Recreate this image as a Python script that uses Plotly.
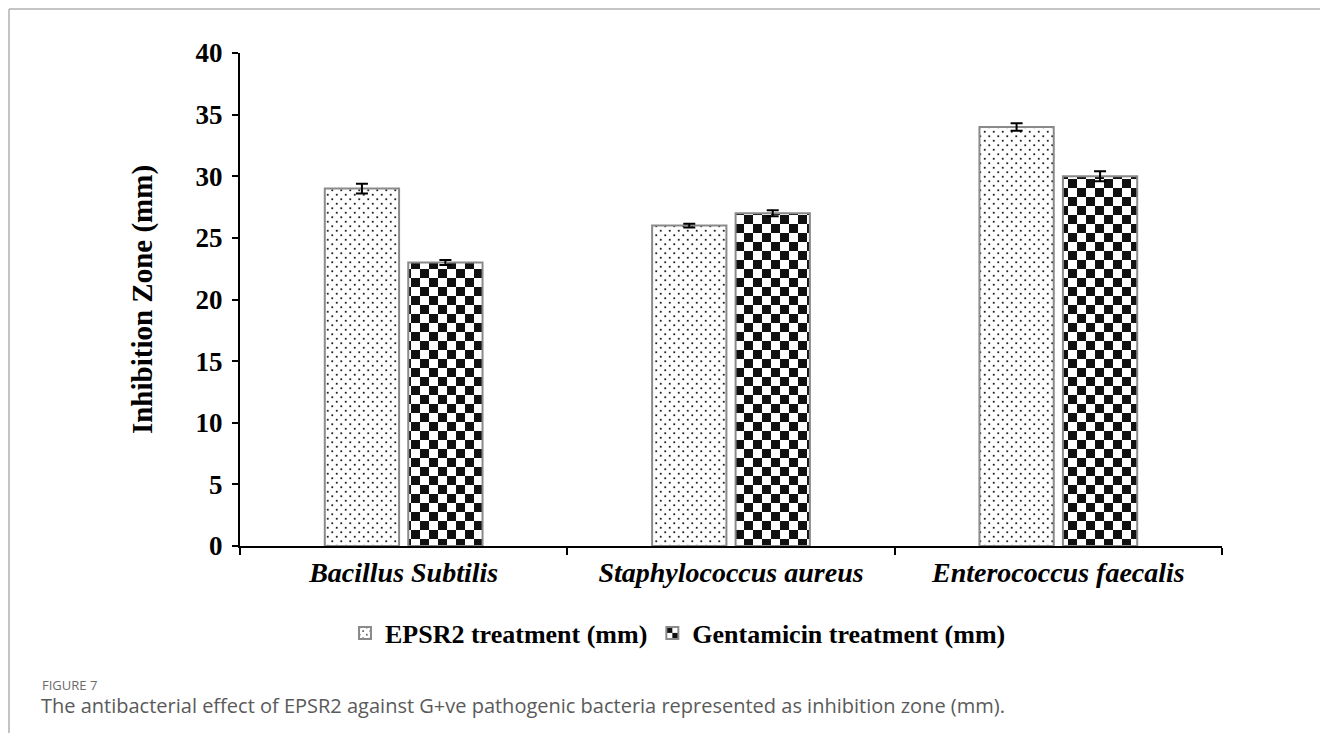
import plotly.graph_objects as go

# ---- data ----
categories = ["Bacillus Subtilis", "Staphylococcus aureus", "Enterococcus faecalis"]
epsr2 = [29, 26, 34]
epsr2_err = [0.4, 0.15, 0.3]
genta = [23, 27, 30]
genta_err = [0.2, 0.25, 0.4]
series_names = ["EPSR2 treatment (mm)", "Gentamicin treatment (mm)"]
y_ticks = [0, 5, 10, 15, 20, 25, 30, 35, 40]

W, H = 1320, 733
ML, MR, MT, MB = 240, 98, 53, 187
PW, PH = W - ML - MR, H - MT - MB

def px_x(x):
    return (x - ML) / PW

def px_y(y):
    return (H - MB - y) / PH

serif = "Liberation Serif"
outline = "#8a8a8a"

fig = go.Figure()
fig.add_trace(go.Bar(
    name=series_names[0], x=categories, y=epsr2,
    error_y=dict(type="data", array=epsr2_err, color="black", thickness=2, width=6),
    marker=dict(color="white", line=dict(color=outline, width=2),
                pattern=dict(shape=".", fgcolor="#222222", bgcolor="white", size=9, solidity=0.05)),
))
fig.add_trace(go.Bar(
    name=series_names[1], x=categories, y=genta,
    error_y=dict(type="data", array=genta_err, color="black", thickness=2, width=6),
    marker=dict(color="white", line=dict(color=outline, width=2),
                pattern=dict(shape="+", fgcolor="#111111", bgcolor="white", size=18, solidity=0.5)),
))

fig.update_layout(
    width=W, height=H,
    margin=dict(l=ML, r=MR, t=MT, b=MB, autoexpand=False),
    paper_bgcolor="white", plot_bgcolor="white",
    barmode="group", bargap=0.49, bargroupgap=0.11,
    showlegend=True,
    legend=dict(orientation="h", x=px_x(678), xanchor="center", y=px_y(633), yanchor="middle",
                font=dict(family=serif, size=26, color="black", weight="bold"),
                itemwidth=30, traceorder="normal"),
    xaxis=dict(showline=True, linecolor="black", linewidth=2, ticks="outside",
               tickson="boundaries", ticklen=7, tickwidth=2, tickcolor="black",
               ticklabelstandoff=0,
               tickfont=dict(family=serif, size=28, color="black", weight="bold", style="italic"),
               showgrid=False, zeroline=False),
    yaxis=dict(range=[0, 40], tickvals=y_ticks, showline=True, linecolor="black", linewidth=2,
               ticks="outside", ticklen=6, tickwidth=2, tickcolor="black",
               ticklabelstandoff=4,
               tickfont=dict(family=serif, size=27, color="black", weight="bold"),
               showgrid=False, zeroline=False,
               title=dict(text="Inhibition Zone (mm)", standoff=34,
                          font=dict(family=serif, size=29, color="black", weight="bold"))),
    shapes=[
        dict(type="line", xref="paper", yref="paper", x0=px_x(9), x1=px_x(9), y0=px_y(9), y1=px_y(H),
             line=dict(color="#b0b0b0", width=1.5)),
        dict(type="line", xref="paper", yref="paper", x0=px_x(9), x1=px_x(W), y0=px_y(9), y1=px_y(9),
             line=dict(color="#b0b0b0", width=1.5)),
    ],
    annotations=[
        dict(text="FIGURE 7", xref="paper", yref="paper", x=px_x(40), y=px_y(685),
             xanchor="left", yanchor="middle", showarrow=False,
             font=dict(family="Open Sans", size=13, color="#6b6b6b")),
        dict(text="The antibacterial effect of EPSR2 against G+ve pathogenic bacteria represented as inhibition zone (mm).",
             xref="paper", yref="paper", x=px_x(39), y=px_y(705),
             xanchor="left", yanchor="middle", showarrow=False,
             font=dict(family="Open Sans", size=20, color="#5a5a5a")),
    ],
)

post = r"""
var gd = document.getElementById('{plot_id}');
var NS = 'http://www.w3.org/2000/svg';
function mk(tag, attrs, parent){ var e = document.createElementNS(NS, tag); for (var k in attrs) e.setAttribute(k, attrs[k]); parent.appendChild(e); return e; }
function patIds(group){
  var ids = {};
  group.querySelectorAll('path').forEach(function(p){
    var f = (p.style && p.style.fill) || p.getAttribute('fill') || '';
    var m = /#([^'")]+)/.exec(f);
    if (m) ids[m[1]] = true;
  });
  return Object.keys(ids);
}
function rebuild(id, kind){
  var pat = document.getElementById(id);
  if (!pat) return;
  var s = 18;
  if (kind === 'dots') s = 9;
  pat.setAttribute('width', s); pat.setAttribute('height', s);
  while (pat.firstChild) pat.removeChild(pat.firstChild);
  mk('rect', {x:0, y:0, width:s, height:s, fill:'#ffffff'}, pat);
  if (kind === 'dots') {
    mk('rect', {x:s/4-0.9, y:s/4-0.9, width:1.8, height:1.8, fill:'#1e1e1e'}, pat);
    mk('rect', {x:3*s/4-0.9, y:3*s/4-0.9, width:1.8, height:1.8, fill:'#1e1e1e'}, pat);
  } else {
    mk('rect', {x:0, y:0, width:s/2, height:s/2, fill:'#111111'}, pat);
    mk('rect', {x:s/2, y:s/2, width:s/2, height:s/2, fill:'#111111'}, pat);
  }
}
function apply(){
  var kinds = ['dots', 'checker'];
  var traces = gd.querySelectorAll('g.trace.bars');
  traces.forEach(function(t, i){ patIds(t).forEach(function(id){ rebuild(id, kinds[i]); }); });
  var leg = gd.querySelectorAll('g.legend g.traces');
  leg.forEach(function(t, i){ patIds(t).forEach(function(id){ rebuild(id, kinds[i]); }); });
}
apply();
gd.on('plotly_afterplot', apply);
"""

fig.write_html("out.html", post_script=post)
